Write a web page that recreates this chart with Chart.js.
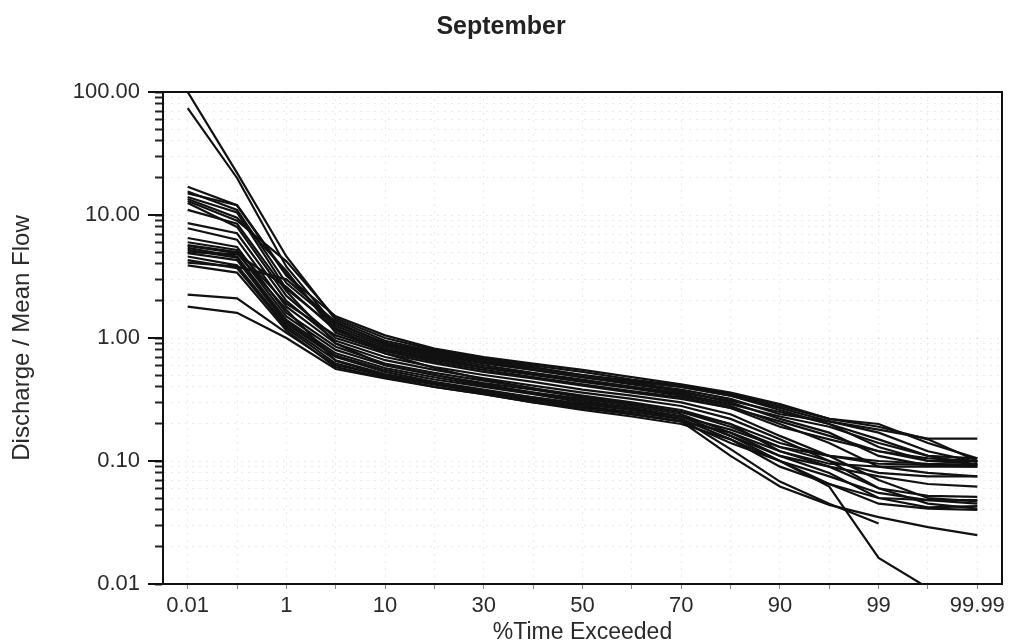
<!DOCTYPE html>
<html>
<head>
<meta charset="utf-8">
<script src="https://cdn.jsdelivr.net/npm/chart.js@4.4.1/dist/chart.umd.min.js"></script>
<style>
  html, body { margin: 0; padding: 0; background: #fff; }
  #wrap { width: 1013px; height: 644px; }
</style>
</head>
<body>
<div id="wrap"><canvas id="chartSeptiembre"></canvas></div>
<script>
// % time exceeded (probability positions, evenly spaced on the plot)
const exceedance = ['0.01', '0.1', '1', '5', '10', '20', '30', '40', '50', '60', '70', '80', '90', '95', '99', '99.9', '99.99'];
const shownLabels = ['0.01', '1', '10', '30', '50', '70', '90', '99', '99.99'];
const yDecades = [0.01, 0.1, 1, 10, 100];
const yMinorSteps = [2, 3, 4, 5, 6, 7, 8, 9];

// discharge / mean flow, one curve per year
const c01 = [100, 22, 4.6, 1.4, 0.95, 0.78, 0.66, 0.58, 0.50, 0.44, 0.40, 0.34, 0.26, 0.20, 0.13, 0.10, 0.095];
const c02 = [74, 20, 3.8, 1.25, 0.88, 0.72, 0.62, 0.55, 0.48, 0.42, 0.37, 0.30, 0.22, 0.17, 0.11, 0.092, 0.09];
const c03 = [17, 12, 3.2, 1.5, 1.05, 0.82, 0.70, 0.62, 0.55, 0.48, 0.42, 0.36, 0.29, 0.22, 0.19, 0.15, 0.10];
const c04 = [15.5, 11, 2.8, 1.3, 0.92, 0.76, 0.64, 0.57, 0.50, 0.45, 0.40, 0.34, 0.27, 0.21, 0.17, 0.12, 0.098];
const c05 = [14, 10.5, 2.5, 1.2, 0.85, 0.70, 0.60, 0.52, 0.46, 0.40, 0.36, 0.31, 0.25, 0.20, 0.15, 0.11, 0.093];
const c06 = [13.5, 9.5, 3.5, 1.1, 0.80, 0.66, 0.57, 0.50, 0.44, 0.39, 0.34, 0.28, 0.20, 0.14, 0.09, 0.08, 0.075];
const c07 = [12.5, 8, 2.2, 1.0, 0.75, 0.62, 0.53, 0.47, 0.41, 0.36, 0.32, 0.27, 0.21, 0.16, 0.12, 0.105, 0.10];
const c08 = [8.6, 7.1, 2.0, 0.95, 0.70, 0.58, 0.50, 0.44, 0.38, 0.34, 0.30, 0.24, 0.16, 0.11, 0.07, 0.05, 0.047];
const c09 = [7.8, 6.3, 1.8, 0.9, 0.66, 0.55, 0.47, 0.41, 0.36, 0.32, 0.28, 0.22, 0.15, 0.10, 0.06, 0.045, 0.041];
const c10 = [6.5, 5.5, 1.6, 0.85, 0.62, 0.52, 0.45, 0.39, 0.34, 0.30, 0.26, 0.20, 0.12, 0.09, 0.075, 0.065, 0.062];
const c11 = [5.7, 5.0, 1.5, 0.8, 0.60, 0.50, 0.43, 0.38, 0.33, 0.29, 0.25, 0.19, 0.13, 0.11, 0.095, 0.093, 0.093];
const c12 = [5.4, 4.6, 1.4, 0.75, 0.57, 0.48, 0.41, 0.36, 0.32, 0.28, 0.24, 0.17, 0.11, 0.09, 0.06, 0.052, 0.051];
const c13 = [5.2, 4.5, 1.35, 0.72, 0.55, 0.46, 0.40, 0.35, 0.30, 0.27, 0.23, 0.16, 0.10, 0.075, 0.055, 0.048, 0.045];
const c14 = [4.9, 4.3, 1.3, 0.70, 0.53, 0.44, 0.38, 0.33, 0.29, 0.26, 0.22, 0.15, 0.09, 0.065, 0.045, 0.041, 0.04];
const c15 = [4.6, 3.9, 1.25, 0.66, 0.51, 0.43, 0.37, 0.32, 0.28, 0.25, 0.22, 0.125, 0.068, 0.045, 0.031, null, null];
const c16 = [4.3, 3.7, 1.2, 0.62, 0.49, 0.42, 0.36, 0.31, 0.27, 0.24, 0.21, 0.11, 0.062, 0.044, 0.035, 0.029, 0.025];
const c17 = [3.9, 3.4, 1.15, 0.58, 0.48, 0.40, 0.35, 0.30, 0.26, 0.23, 0.20, 0.15, 0.10, 0.062, 0.0163, 0.0093, null];
const c18 = [2.25, 2.1, 1.1, 0.60, 0.50, 0.42, 0.37, 0.33, 0.29, 0.26, 0.23, 0.18, 0.13, 0.10, 0.08, 0.075, 0.075];
const c19 = [1.8, 1.6, 1.0, 0.56, 0.47, 0.40, 0.35, 0.30, 0.27, 0.24, 0.21, 0.17, 0.12, 0.095, 0.09, 0.09, 0.09];
const c20 = [6.0, 5.2, 1.9, 1.05, 0.78, 0.64, 0.55, 0.48, 0.42, 0.37, 0.33, 0.27, 0.19, 0.15, 0.12, 0.10, 0.10];
const c21 = [5.0, 4.8, 2.6, 1.15, 0.82, 0.68, 0.58, 0.51, 0.45, 0.40, 0.35, 0.29, 0.23, 0.19, 0.14, 0.11, 0.105];
const c22 = [4.1, 3.8, 3.0, 1.35, 0.90, 0.74, 0.63, 0.55, 0.48, 0.43, 0.38, 0.32, 0.24, 0.21, 0.18, 0.152, 0.152];
const c23 = [13, 9, 4.2, 1.45, 1.0, 0.80, 0.68, 0.60, 0.53, 0.46, 0.41, 0.35, 0.28, 0.22, 0.20, 0.14, 0.105];
const c24 = [11, 8.5, 2.4, 0.9, 0.60, 0.50, 0.42, 0.36, 0.31, 0.27, 0.23, 0.16, 0.11, 0.08, 0.05, 0.042, 0.043];
const c25 = [5.6, 4.9, 1.7, 0.65, 0.50, 0.43, 0.37, 0.32, 0.28, 0.24, 0.21, 0.14, 0.10, 0.065, 0.05, 0.048, 0.048];
const c26 = [15, 12, 3.3, 1.2, 0.75, 0.57, 0.46, 0.39, 0.33, 0.29, 0.25, 0.20, 0.14, 0.11, 0.10, 0.095, 0.093];

const curves = [c01, c02, c03, c04, c05, c06, c07, c08, c09, c10, c11, c12, c13,
  c14, c15, c16, c17, c18, c19, c20, c21, c22, c23, c24, c25, c26];

const fontName = "'Liberation Sans', Arial, sans-serif";

// closed frame + longer ticks at the decades
const frame = {
  id: 'frame',
  afterDraw(chart) {
    const { ctx, chartArea: a, scales: { y } } = chart;
    ctx.save();
    ctx.strokeStyle = '#111';
    ctx.lineWidth = 2;
    ctx.strokeRect(a.left, a.top, a.width, a.height);
    yDecades.forEach(v => {
      const py = Math.round(y.getPixelForValue(v));
      ctx.beginPath();
      ctx.moveTo(a.left - 15, py);
      ctx.lineTo(a.left, py);
      ctx.stroke();
    });
    ctx.restore();
  }
};

const ctx = document.getElementById('chartSeptiembre');

new Chart(ctx, {
  type: 'line',
  data: {
    labels: exceedance,
    datasets: curves.map((c, i) => ({
      label: 'curve ' + (i + 1),
      data: c,
      borderColor: '#111',
      borderWidth: 2.2,
      pointRadius: 0,
      tension: 0,
      fill: false
    }))
  },
  options: {
    responsive: true,
    maintainAspectRatio: false,
    animation: false,
    devicePixelRatio: 1,
    layout: { padding: { left: 0, right: 11, top: 0, bottom: 0 } },
    plugins: {
      legend: { display: false },
      tooltip: { enabled: false },
      title: {
        display: true,
        text: 'September',
        color: '#222',
        font: { family: fontName, size: 25, weight: 'bold', lineHeight: 1.2 },
        padding: { top: 12, bottom: 50 }
      }
    },
    scales: {
      x: {
        type: 'category',
        offset: true,
        afterFit(scale) { scale.height = 60; },
        grid: {
          offset: false,
          color: 'rgba(0,0,0,0.08)',
          tickColor: '#888',
          tickLength: 5,
          tickBorderDash: []
        },
        border: { display: true, color: '#111', width: 2, dash: [2, 5] },
        ticks: {
          autoSkip: false,
          maxRotation: 0,
          padding: 4,
          color: '#2a2a2a',
          font: { family: fontName, size: 22 },
          callback(value) {
            const lab = exceedance[value];
            return shownLabels.includes(lab) ? lab : '';
          }
        },
        title: {
          display: true,
          text: '%Time Exceeded',
          color: '#2a2a2a',
          font: { family: fontName, size: 23, lineHeight: 1.0 },
          padding: { top: 0, bottom: 0 }
        }
      },
      y: {
        type: 'logarithmic',
        min: 0.01,
        max: 100,
        afterFit(scale) { scale.width = 163; },
        afterBuildTicks(scale) {
          const vals = [];
          yDecades.forEach((d, i) => {
            vals.push(d);
            if (i < yDecades.length - 1) yMinorSteps.forEach(s => vals.push(d * s));
          });
          scale.ticks = vals.map(v => ({ value: v }));
        },
        grid: {
          color: 'rgba(0,0,0,0.08)',
          tickColor: '#222',
          tickLength: 8,
          tickWidth: 2,
          tickBorderDash: []
        },
        border: { display: true, color: '#111', width: 2, dash: [2, 5] },
        ticks: {
          autoSkip: false,
          padding: 15,
          color: '#2a2a2a',
          font: { family: fontName, size: 22 },
          callback(value) {
            return yDecades.includes(value) ? value.toFixed(2) : '';
          }
        },
        title: {
          display: true,
          text: 'Discharge / Mean Flow',
          color: '#2a2a2a',
          font: { family: fontName, size: 24, lineHeight: 1.2 },
          padding: { top: 8, bottom: 0 }
        }
      }
    }
  },
  plugins: [frame]
});
</script>
</body>
</html>
